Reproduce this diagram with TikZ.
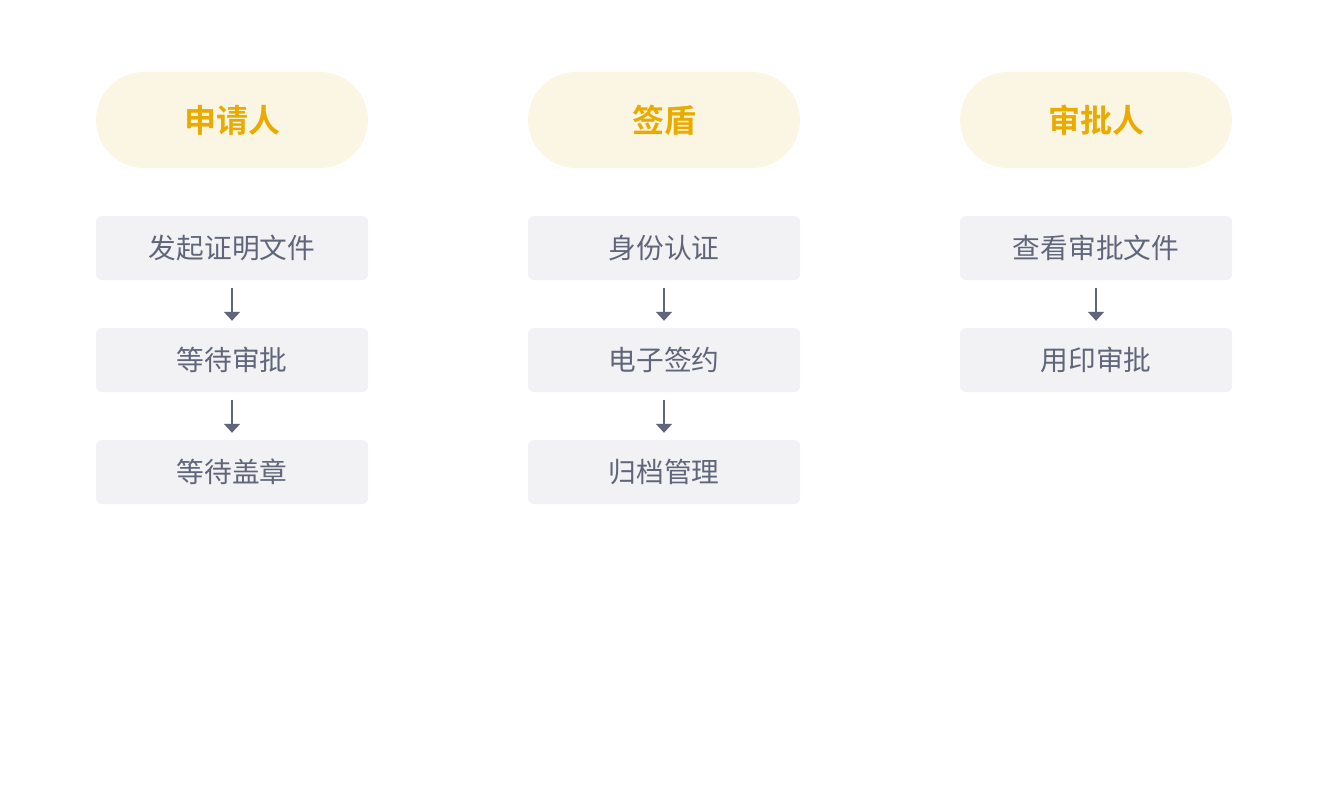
\documentclass[tikz,border=0pt]{standalone}
\usepackage{fontspec}
\usetikzlibrary{arrows.meta}
\newfontfamily\cjk{Noto Sans CJK SC}
\newfontfamily\cjkbold{Noto Sans CJK SC Bold}
\definecolor{pillfill}{HTML}{FBF6E3}
\definecolor{pilltext}{HTML}{E9AB00}
\definecolor{boxfill}{HTML}{F2F2F4}
\definecolor{boxtext}{HTML}{60657A}
\tikzset{
  pill/.style={fill=pillfill, rounded corners=48pt, minimum width=272pt, minimum height=96pt, inner sep=0pt,
    text=pilltext, font=\cjkbold\fontsize{32}{32}\selectfont},
  stepbox/.style={fill=boxfill, rounded corners=6pt, minimum width=272pt, minimum height=64pt, inner sep=0pt,
    text=boxtext, font=\cjk\fontsize{27.7}{28}\selectfont},
  flow/.style={draw=boxtext, line width=2pt, -{Triangle[width=16pt,length=9pt]}, shorten <=8pt, shorten >=7pt},
}
\begin{document}
\begin{tikzpicture}[x=1pt,y=-1pt]
\useasboundingbox (0,0) rectangle (1328,804);
\node[pill] (h1) at (232,120) {申请人};
\node[pill] (h2) at (664,120) {签盾};
\node[pill] (h3) at (1096,120) {审批人};
\node[stepbox] (a1) at (232,248) {发起证明文件};
\node[stepbox] (a2) at (232,360) {等待审批};
\node[stepbox] (a3) at (232,472) {等待盖章};
\node[stepbox] (b1) at (664,248) {身份认证};
\node[stepbox] (b2) at (664,360) {电子签约};
\node[stepbox] (b3) at (664,472) {归档管理};
\node[stepbox] (c1) at (1096,248) {查看审批文件};
\node[stepbox] (c2) at (1096,360) {用印审批};
\draw[flow] (a1) -- (a2);
\draw[flow] (a2) -- (a3);
\draw[flow] (b1) -- (b2);
\draw[flow] (b2) -- (b3);
\draw[flow] (c1) -- (c2);
\end{tikzpicture}
\end{document}
